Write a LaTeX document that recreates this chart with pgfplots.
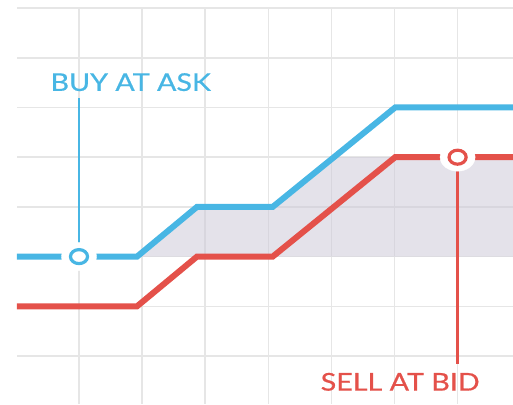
\documentclass[border=0pt]{standalone}
\usepackage{pgfplots}
\pgfplotsset{compat=1.18}
\usepackage{fontspec}
\setmainfont{Lato}
\newfontfamily\labelfont[FakeBold=0.6]{Lato}
\definecolor{cblue}{HTML}{48B6E4}
\definecolor{cred}{HTML}{E4514A}
\definecolor{cgrid}{HTML}{E6E6E6}
\definecolor{cshade}{RGB}{206,202,216}
\begin{document}
\begin{tikzpicture}
\useasboundingbox (0,0) rectangle (513pt,404pt);
\begin{axis}[at={(17pt,0pt)}, anchor=south west, scale only axis,
  width=496pt, height=396pt,
  xmin=0.0174, xmax=7.878, ymin=0.034, ymax=8.002,
  xtick={1,...,7}, ytick={1,...,8}, xticklabels={}, yticklabels={},
  tick style={draw=none}, axis line style={draw=none},
  grid=major, major grid style={cgrid, line width=1.5pt},
  clip=true]
% shaded band between buy and sell
\addplot[draw=none, fill=cshade, fill opacity=0.55] coordinates {(1.92,3) (2.87,4) (4.07,4) (5.04,5) (7.95,5) (7.95,3)} -- cycle;
% buy at ask
\addplot[cblue, line width=6pt] coordinates {(0,3) (1.92,3) (2.87,4) (4.07,4) (6.01,6) (8,6)};
% sell at bid
\addplot[cred, line width=6pt] coordinates {(0,2) (1.92,2) (2.87,3) (4.07,3) (6.01,5) (8,5)};
% white halos
\addplot[only marks, mark=*, mark size=14pt, mark options={draw=white, fill=white, xscale=1.25}] coordinates {(1,3) (7,5)};
% annotation leaders
\addplot[cblue, line width=2.5pt] coordinates {(1,6.19) (1,3)};
\addplot[cred, line width=2.5pt] coordinates {(7,5) (7,0.84)};
% circle markers
\addplot[only marks, mark=*, mark size=7pt, mark options={draw=cblue, fill=white, line width=3.2pt, xscale=1.22}] coordinates {(1,3)};
\addplot[only marks, mark=*, mark size=7pt, mark options={draw=cred, fill=white, line width=3.2pt, xscale=1.22}] coordinates {(7,5)};
\node[cblue, font=\labelfont\fontsize{24.5}{24.5}\selectfont, xscale=1.17] at (axis cs:1.82,6.51) {BUY AT ASK};
\node[cred, font=\labelfont\fontsize{24.5}{24.5}\selectfont, xscale=1.17] at (axis cs:6.09,0.48) {SELL AT BID};
\end{axis}
\end{tikzpicture}
\end{document}
